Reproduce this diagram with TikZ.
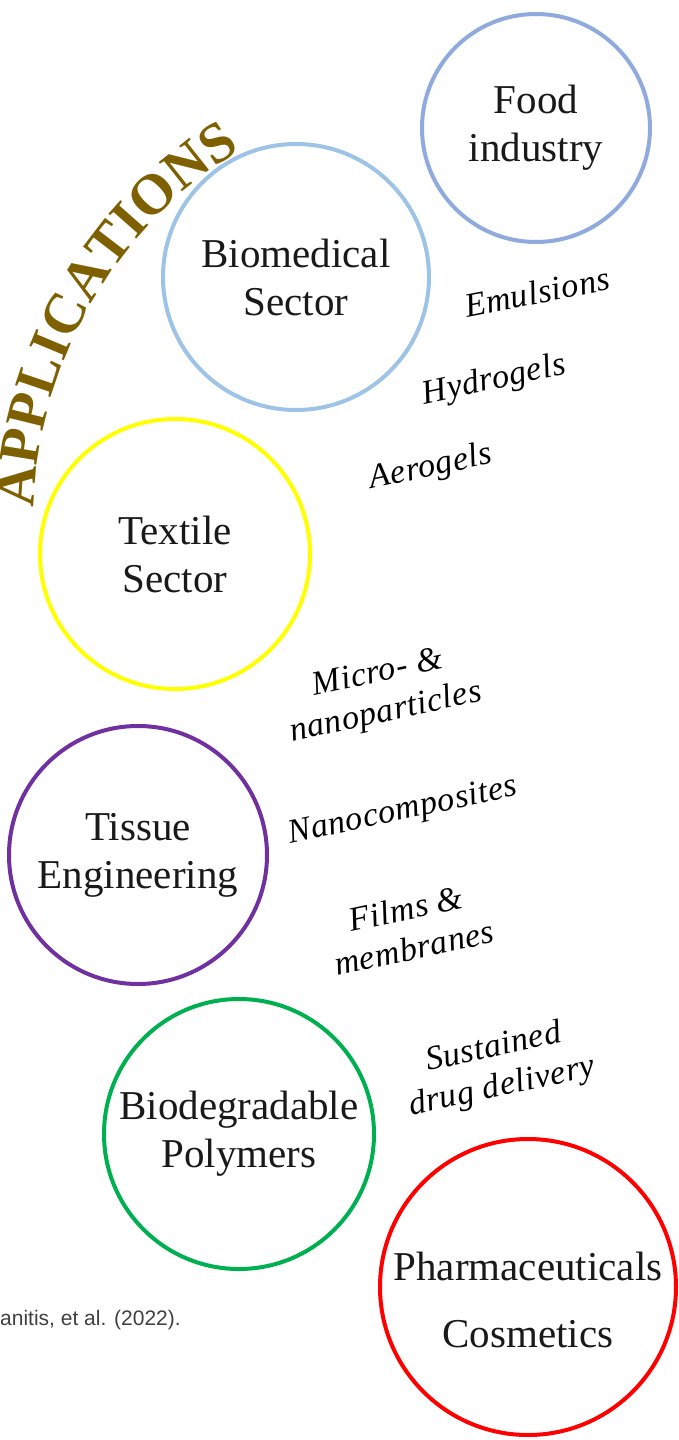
\documentclass[tikz,border=0pt]{standalone}
\usepackage{fontspec}
\setmainfont{Liberation Serif}
\newfontfamily\lblserif[LetterSpace=2]{Liberation Serif}
\newfontfamily\srcsans{Liberation Sans}
\usetikzlibrary{positioning, decorations.text}
\definecolor{foodblue}{HTML}{8FAADC}
\definecolor{bioblue}{HTML}{9DC3E6}
\definecolor{textyellow}{HTML}{FFFF00}
\definecolor{tissuepurple}{HTML}{7030A0}
\definecolor{biogreen}{HTML}{00B050}
\definecolor{pharmred}{HTML}{FF0000}
\definecolor{appbrown}{HTML}{7F6000}

\begin{document}
\begin{tikzpicture}[
  x=1pt, y=-1pt,
  sector/.style={
    circle, line width=4pt, align=center, inner sep=0pt,
    text=black!90, font=\fontsize{41}{48}\selectfont
  },
  usage/.style={align=center, rotate=12, inner sep=0pt,
    font=\lblserif\itshape\fontsize{34}{40}\selectfont}
]
\useasboundingbox (0,0) rectangle (679,1440);
\node[sector, draw=foodblue, minimum size=228pt] (food) at (536,128) {Food\\industry};
\node[sector, draw=bioblue, minimum size=266pt] (biomed) at (296,277) {Biomedical\\Sector};
\node[sector, draw=textyellow, minimum size=270pt] (textile) at (175,554) {Textile\\Sector};
\node[sector, draw=tissuepurple, minimum size=258pt] (tissue) at (138,855) {Tissue\\Engineering};
\node[sector, draw=biogreen, minimum size=270pt] (biodeg) at (239,1134) {Biodegradable\\Polymers};
\node[sector, draw=pharmred, minimum size=296pt] (pharm) at (528,1287) {};
\node[align=center, text=black!90, font=\fontsize{41}{67}\selectfont, yshift=-13pt] (pharmtext) at (pharm.center) {Pharmaceuticals\\Cosmetics};
\node[usage, rotate=-1] (emul) at (537,292) {Emulsions};
\node[usage] (hydro) at (494,381) {Hydrogels};
\node[usage] (aero) at (431,468) {Aerogels};
\node[usage] (micro) at (382,694) {Micro- \&\\nanoparticles};
\node[usage] (nanoc) at (403,812) {Nanocomposites};
\node[usage] (films) at (410,928) {Films \&\\membranes};
\node[usage] (drug) at (498,1068) {Sustained\\drug delivery};
\coordinate (arccenter) at (467,519);
\path[decorate, decoration={text along path, text align=center,
  text={|\bfseries\fontsize{57}{57}\selectfont\color{appbrown}|APPLICATIONS}}]
  (arccenter) ++(-190:433) arc[start angle=-190, end angle=-110, radius=433];
\node[anchor=west, inner sep=0pt, text=black!75, font=\srcsans\fontsize{21}{24}\selectfont] (source) at (0,1320) {anitis, et al. (2022).};
\end{tikzpicture}
\end{document}
